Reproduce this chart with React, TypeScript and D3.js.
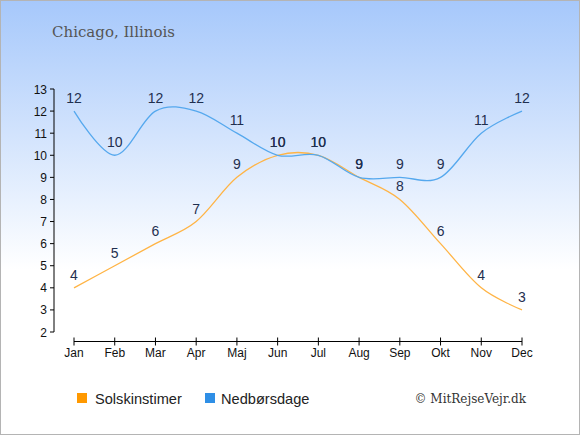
import * as d3 from "d3";

const months = ["Jan", "Feb", "Mar", "Apr", "Maj", "Jun", "Jul", "Aug", "Sep", "Okt", "Nov", "Dec"];
const sunHours = [4, 5, 6, 7, 9, 10, 10, 9, 8, 6, 4, 3];
const rainDays = [12, 10, 12, 12, 11, 10, 10, 9, 9, 9, 11, 12];
const yTicks = [2, 3, 4, 5, 6, 7, 8, 9, 10, 11, 12, 13];

const W = 580;
const H = 435;

const series = [
  { name: "Solskinstimer", values: sunHours, line: "#ffb445", swatch: "#ff9900" },
  { name: "Nedbørsdage", values: rainDays, line: "#55a8ee", swatch: "#2f8fe6" },
];

export default function App() {
  const x = d3.scalePoint<string>().domain(months).range([74, 522]);
  const y = d3.scaleLinear().domain([2, 13]).range([332, 89]);
  const line = d3
    .line<number>()
    .x((_, i) => x(months[i]) as number)
    .y((d) => y(d))
    .curve(d3.curveCardinal);

  const axisX = 54;
  const axisY = 341.5;

  return (
    <svg
      width={W}
      height={H}
      style={{ position: "absolute", left: 0, top: 0, display: "block" }}
    >
      <defs>
        <linearGradient id="bg" x1="0" y1="0" x2="0" y2="1">
          <stop offset="0" stopColor="#a6c8fb" />
          <stop offset="0.62" stopColor="#ffffff" />
          <stop offset="1" stopColor="#ffffff" />
        </linearGradient>
      </defs>
      <rect x={0.5} y={0.5} width={W - 1} height={H - 1} fill="url(#bg)" stroke="#b4b4b4" />

      <text x={52} y={37} fontFamily="'DejaVu Serif', serif" fontSize={15} fill="#555">
        Chicago, Illinois
      </text>

      {/* y axis */}
      <g fontFamily="'Liberation Sans', Arial, sans-serif" fontSize={12} fill="#111">
        <line x1={axisX} x2={axisX} y1={y(13)} y2={y(2)} stroke="#000" />
        {yTicks.map((t) => (
          <g key={t}>
            <line x1={axisX - 4} x2={axisX} y1={y(t)} y2={y(t)} stroke="#000" />
            <text x={axisX - 7} y={y(t) + 4.5} textAnchor="end">
              {t}
            </text>
          </g>
        ))}
      </g>

      {/* x axis */}
      <g fontFamily="'Liberation Sans', Arial, sans-serif" fontSize={12} fill="#111">
        <line x1={x("Jan")} x2={x("Dec")} y1={axisY} y2={axisY} stroke="#000" />
        {months.map((m) => (
          <g key={m}>
            <line x1={x(m)} x2={x(m)} y1={axisY - 4} y2={axisY + 4} stroke="#000" />
            <text x={x(m)} y={357} textAnchor="middle">
              {m}
            </text>
          </g>
        ))}
      </g>

      {series.map((s) => (
        <path key={s.name} d={line(s.values) ?? ""} fill="none" stroke={s.line} strokeWidth={1.3} />
      ))}

      {series.map((s) => (
        <g
          key={s.name + "-labels"}
          fontFamily="'Liberation Sans', Arial, sans-serif"
          fontSize={14}
          fill="#1f2f4f"
          textAnchor="middle"
        >
          {s.values.map((v, i) => (
            <text key={i} x={x(months[i])} y={y(v) - 8}>
              {v}
            </text>
          ))}
        </g>
      ))}

      {/* legend */}
      <g fontFamily="'Liberation Sans', Arial, sans-serif" fontSize={14.6} fill="#222">
        <rect x={77} y={393} width={10} height={10} fill={series[0].swatch} />
        <text x={95} y={403.5}>{series[0].name}</text>
        <rect x={205} y={393} width={10} height={10} fill={series[1].swatch} />
        <text x={221} y={403.5}>{series[1].name}</text>
      </g>
      <text x={526} y={403} textAnchor="end" fontFamily="'DejaVu Serif', serif" fontSize={12} fill="#333">
        © MitRejseVejr.dk
      </text>
    </svg>
  );
}
